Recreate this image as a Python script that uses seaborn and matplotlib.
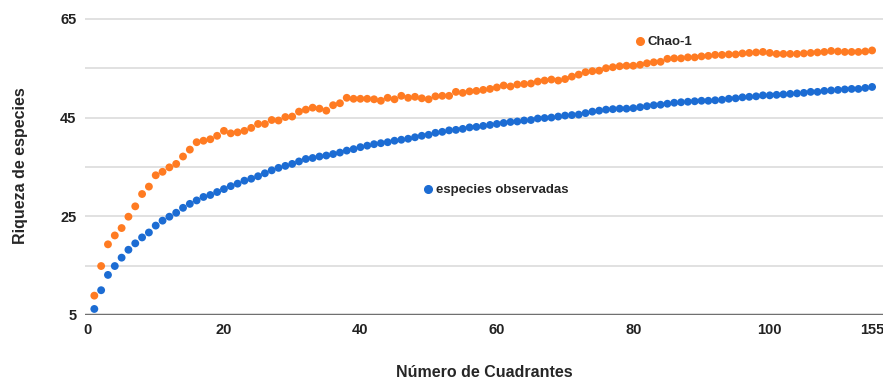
import numpy as np
import pandas as pd
import matplotlib
matplotlib.use('Agg')
import matplotlib.pyplot as plt
import seaborn as sns
from matplotlib.lines import Line2D

# Valores (curva de acumulación de especies)
observadas = [
    6.2, 10.0, 13.1, 14.9, 16.6, 18.2, 19.5, 20.7, 21.7, 23.1,
    24.1, 24.9, 25.7, 26.7, 27.5, 28.2, 28.9, 29.3, 29.9, 30.5,
    31.1, 31.6, 32.2, 32.6, 33.1, 33.7, 34.3, 34.8, 35.2, 35.6,
    36.1, 36.6, 36.8, 37.1, 37.3, 37.6, 37.9, 38.3, 38.6, 39.0,
    39.3, 39.6, 39.8, 40.0, 40.3, 40.5, 40.7, 41.0, 41.3, 41.5,
    41.9, 42.1, 42.4, 42.5, 42.7, 43.0, 43.1, 43.3, 43.5, 43.7,
    43.9, 44.1, 44.2, 44.4, 44.5, 44.8, 44.9, 45.0, 45.2, 45.4,
    45.5, 45.6, 45.9, 46.2, 46.4, 46.6, 46.7, 46.8, 46.8, 46.9,
    47.1, 47.3, 47.5, 47.6, 47.8, 48.0, 48.1, 48.2, 48.3, 48.4,
    48.4, 48.5, 48.6, 48.8, 48.9, 49.1, 49.2, 49.3, 49.5, 49.5,
    49.6, 49.7, 49.8, 49.9, 50.0, 50.2, 50.2, 50.4, 50.5, 50.6,
    50.7, 50.8, 50.8, 51.0, 51.2,
]
chao1 = [
    8.9, 14.9, 19.3, 21.1, 22.6, 24.9, 27.0, 29.5, 31.0, 33.3,
    34.0, 34.9, 35.6, 37.1, 38.5, 40.0, 40.3, 40.6, 41.3, 42.3,
    41.8, 42.0, 42.3, 42.9, 43.7, 43.7, 44.5, 44.4, 45.1, 45.2,
    46.2, 46.6, 47.0, 46.8, 46.4, 47.5, 47.9, 49.0, 48.8, 48.8,
    48.8, 48.7, 48.4, 49.0, 48.7, 49.4, 49.0, 49.2, 48.9, 48.7,
    49.3, 49.4, 49.4, 50.2, 50.0, 50.3, 50.4, 50.6, 50.8, 51.1,
    51.5, 51.3, 51.7, 51.8, 51.9, 52.3, 52.5, 52.7, 52.5, 52.8,
    53.3, 53.7, 54.2, 54.4, 54.5, 55.0, 55.2, 55.4, 55.5, 55.5,
    55.7, 56.0, 56.2, 56.3, 56.9, 57.0, 57.0, 57.2, 57.2, 57.4,
    57.5, 57.7, 57.7, 57.8, 57.8, 58.0, 58.1, 58.2, 58.3, 58.1,
    57.9, 57.9, 57.9, 57.9, 58.0, 58.1, 58.2, 58.3, 58.5, 58.4,
    58.3, 58.3, 58.3, 58.4, 58.6,
]
cuadrantes = list(range(1, len(observadas) + 1))

x_ticks = [0, 20, 40, 60, 80, 100, len(observadas)]
x_ticklabels = ['0', '20', '40', '60', '80', '100', '155']
y_ticks = [5, 25, 45, 65]
y_grid = [5, 15, 25, 35, 45, 55, 65]

NARANJA = '#FF7B22'
AZUL = '#1C6CD3'

df = pd.DataFrame({
    'Cuadrantes': cuadrantes * 2,
    'Riqueza': observadas + chao1,
    'Serie': ['especies observadas'] * len(observadas) + ['Chao-1'] * len(chao1),
})

sns.set_style('white')
plt.rcParams['font.family'] = ['Liberation Sans', 'DejaVu Sans']

fig = plt.figure(figsize=(8.83, 3.84), dpi=100)
ax = fig.add_axes([0.096, 0.18, 0.904, 0.776])

# lineas de cuadricula
for yv in y_grid[1:]:
    ax.axhline(yv, color='#dcdcdc', lw=1.2, zorder=0)
ax.axhline(5, color='#707070', lw=2.5, zorder=1)

sns.scatterplot(data=df, x='Cuadrantes', y='Riqueza', hue='Serie',
                palette={'especies observadas': AZUL, 'Chao-1': NARANJA},
                s=32, edgecolor='none', legend=False, ax=ax, zorder=3,
                clip_on=False)

ax.set_xlim(-0.4, 116.6)
ax.set_ylim(5, 65.4)
ax.set_xticks(x_ticks)
ax.set_xticklabels(x_ticklabels, fontsize=10.5, fontweight='bold', color='#222222')
ax.set_yticks(y_ticks)
ax.set_yticklabels([str(v) for v in y_ticks], fontsize=10.5, fontweight='bold', color='#222222')
ax.tick_params(axis='both', length=0, pad=6)
for s in ax.spines.values():
    s.set_visible(False)

ax.set_xlabel('Número de Cuadrantes', fontsize=11.5, fontweight='bold', labelpad=20)
ax.set_ylabel('Riqueza de especies', fontsize=11.5, fontweight='bold', labelpad=23)

# leyendas dentro del area del grafico
h_chao = [Line2D([], [], marker='o', ls='none', color=NARANJA, markersize=5.5)]
h_obs = [Line2D([], [], marker='o', ls='none', color=AZUL, markersize=5.5)]
leg1 = ax.legend(h_chao, ['Chao-1'], loc='center left', bbox_to_anchor=(0.679, 0.915),
                 frameon=False, handletextpad=0.1, borderpad=0, handlelength=1.0,
                 prop={'weight': 'bold', 'size': 9.5})
ax.add_artist(leg1)
ax.legend(h_obs, ['especies observadas'], loc='center left', bbox_to_anchor=(0.414, 0.418),
          frameon=False, handletextpad=0.1, borderpad=0, handlelength=1.0,
          prop={'weight': 'bold', 'size': 9.5})

fig.savefig('out.png', dpi=100)
